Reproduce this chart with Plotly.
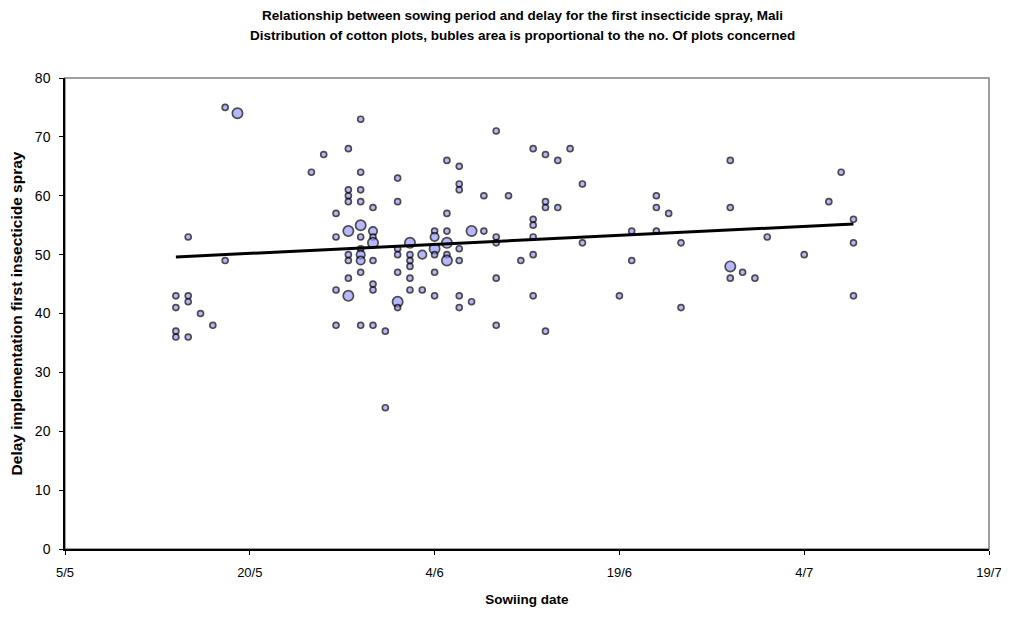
import datetime as dt
import plotly.graph_objects as go

# ---- data (day offsets from 5 May, delay in days, number of plots) ----
sow_day = [9, 9, 9, 9, 10, 10, 10, 10, 11, 12, 13, 13, 14,
           20, 21, 22, 22, 22, 22,
           23, 23, 23, 23, 23, 23, 23, 23, 23,
           24, 24, 24, 24, 24, 24, 24, 24, 24, 24, 24,
           25, 25, 25, 25, 25, 25, 25, 25,
           26, 26,
           27, 27, 27, 27, 27, 27, 27,
           28, 28, 28, 28, 28, 28,
           29, 29,
           30, 30, 30, 30, 30, 30,
           31, 31, 31, 31, 31, 31,
           32, 32, 32, 32, 32, 32, 32,
           33, 33, 34, 34,
           35, 35, 35, 35, 35, 36, 37,
           38, 38, 38, 38, 38, 38,
           39, 39, 39, 39, 40, 40, 41, 42, 42,
           45, 46, 46, 48, 48, 48, 49, 50, 50,
           54, 54, 54, 54, 55, 56, 57, 60, 62, 63, 64, 64, 64]
delay = [43, 41, 37, 36, 53, 43, 42, 36, 40, 38, 75, 49, 74,
         64, 67, 57, 53, 44, 38,
         68, 61, 60, 59, 54, 50, 49, 46, 43,
         73, 64, 61, 59, 55, 53, 51, 50, 49, 47, 38,
         58, 54, 53, 52, 49, 45, 44, 38,
         37, 24,
         63, 59, 51, 50, 47, 42, 41,
         52, 50, 49, 48, 46, 44,
         50, 44,
         54, 53, 51, 50, 47, 43,
         66, 57, 54, 52, 50, 49,
         65, 62, 61, 51, 49, 43, 41,
         54, 42, 60, 54,
         71, 53, 52, 46, 38, 60, 49,
         68, 56, 55, 53, 50, 43,
         67, 59, 58, 37, 66, 58, 68, 62, 52,
         43, 54, 49, 60, 58, 54, 57, 52, 41,
         66, 58, 48, 46, 47, 46, 53, 50, 59, 64, 56, 52, 43]
n_plots = [1, 1, 1, 1, 1, 1, 1, 1, 1, 1, 1, 1, 3,
           1, 1, 1, 1, 1, 1,
           1, 1, 1, 1, 3, 1, 1, 1, 3,
           1, 1, 1, 1, 3, 1, 1, 2, 2, 1, 1,
           1, 2, 1, 3, 1, 1, 1, 1,
           1, 1,
           1, 1, 1, 1, 1, 3, 1,
           3, 1, 1, 1, 1, 1,
           2, 1,
           1, 2, 3, 1, 1, 1,
           1, 1, 1, 3, 1, 3,
           1, 1, 1, 1, 1, 1, 1,
           3, 1, 1, 1,
           1, 1, 1, 1, 1, 1, 1,
           1, 1, 1, 1, 1, 1,
           1, 1, 1, 1, 1, 1, 1, 1, 1,
           1, 1, 1, 1, 1, 1, 1, 1, 1,
           1, 1, 3, 1, 1, 1, 1, 1, 1, 1, 1, 1, 1]

# linear trend as drawn in the chart (value at first and last sowing date)
trend_day = [9, 64]
trend_value = [49.6, 55.2]

tick_labels = ["5/5", "20/5", "4/6", "19/6", "4/7", "19/7"]
tick_days = [0, 15, 30, 45, 60, 75]

title_lines = ["Relationship between sowing period and delay for the first insecticide spray, Mali",
               "Distribution of cotton plots, bubles area is proportional to the no. Of plots concerned"]

start = dt.date(2004, 5, 5)
to_date = lambda d: start + dt.timedelta(days=d)
sow_date = [to_date(d) for d in sow_day]
tick_dates = [to_date(d) for d in tick_days]
trend_dates = [to_date(d) for d in trend_day]

fig = go.Figure()
fig.add_trace(go.Scatter(
    x=sow_date, y=delay, mode="markers",
    marker=dict(size=n_plots, sizemode="area", sizeref=1.0 / (4.2 ** 2), sizemin=1,
                color="#9999FF", line=dict(color="black", width=1.7)),
    showlegend=False, hoverinfo="x+y"))
fig.add_trace(go.Scatter(
    x=trend_dates, y=trend_value, mode="lines",
    line=dict(color="black", width=3), showlegend=False))

fig.add_shape(type="rect", xref="paper", yref="paper", x0=0, y0=0, x1=1, y1=1,
              line=dict(color="#808080", width=1.5), layer="below")

font = "Liberation Sans, Arial, sans-serif"
for txt, shift in zip(title_lines, [63, 43]):
    fig.add_annotation(text="<b>" + txt + "</b>", xref="paper", yref="paper",
                       x=0.4946, y=1, xanchor="center", yanchor="middle",
                       yshift=shift, showarrow=False,
                       font=dict(family=font, size=13.5, color="black"))

# page is offset by 8px (body margin); figure sized to match
fig.update_layout(
    width=1001, height=609,
    margin=dict(l=57, r=20, t=70, b=68, autoexpand=False),
    paper_bgcolor="white", plot_bgcolor="white",
    font=dict(family=font, size=13, color="black"),
    xaxis=dict(type="date", range=[tick_dates[0], tick_dates[-1]],
               tickvals=tick_dates, ticktext=tick_labels, automargin=False,
               showgrid=False, zeroline=False,
               showline=True, linecolor="black", linewidth=1.5,
               ticks="outside", ticklen=4, tickcolor="black",
               tickfont=dict(size=13), ticklabelstandoff=7,
               title=dict(text="<b>Sowiing date</b>", font=dict(size=13.5), standoff=15)),
    yaxis=dict(range=[0, 80], dtick=10, tick0=0, automargin=False,
               showgrid=False, zeroline=False,
               showline=True, linecolor="black", linewidth=1.5,
               ticks="outside", ticklen=4, tickcolor="black",
               tickfont=dict(size=14), ticklabelstandoff=6,
               title=dict(text="<b>Delay implementation first insecticide spray</b>",
                          font=dict(size=15.5), standoff=12)),
)

fig.write_html("out.html")
